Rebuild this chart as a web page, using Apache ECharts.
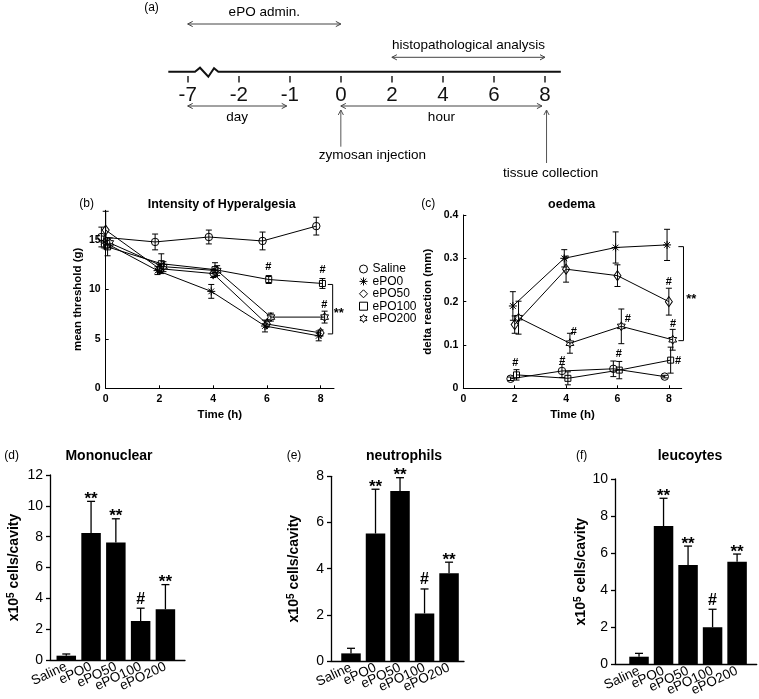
<!DOCTYPE html>
<html><head><meta charset="utf-8">
<script src="https://cdn.jsdelivr.net/npm/echarts@6/dist/echarts.min.js"></script>
<style>html,body{margin:0;padding:0;background:#fff}#c{width:759px;height:699px}</style>
</head><body><div id="c"></div>
<script>
const FONT = '"Liberation Sans", Arial, Helvetica, sans-serif';

// ---------- (a) timeline ----------
const timelineTicks = ['-7','-2','-1','0','2','4','6','8'];
const spanNames = ['ePO admin.', 'histopathological analysis', 'day', 'hour'];
const spanFrom = [0, 4, 0, 3];
const spanTo = [3, 7, 1.94, 6.94];
const eventNames = ['zymosan injection', 'tissue collection'];
const eventAt = [3, 7.03];
const timelineExtent = [-0.38, 7.31];

// ---------- (b) hyperalgesia ----------
const groupNames = ['Saline','ePO0','ePO50','ePO100','ePO200'];
const hyperTimes = [0, 2, 4, 6, 8];
const hyperSaline = [15.3, 14.8, 15.3, 14.9, 16.4];
const hyperEPO0   = [14.8, 11.9, 9.8, 6.3, 5.3];
const hyperEPO50  = [16.0, 12.1, 11.6, 6.5, 5.6];
const hyperEPO100 = [14.3, 12.6, 12.0, 11.0, 10.6];
const hyperEPO200 = [14.7, 12.3, 11.9, 7.2, 7.2];
const hyperSalineErr = [1.0, 0.8, 0.7, 0.9, 0.9];
const hyperEPO0Err   = [0.6, 0.4, 0.7, 0.6, 0.5];
const hyperEPO50Err  = [1.9, 0.4, 0.4, 0.3, 0.3];
const hyperEPO100Err = [0.9, 1.0, 0.7, 0.4, 0.5];
const hyperEPO200Err = [0.5, 0.5, 0.5, 0.4, 0.6];
const hyperXTicks = [0, 2, 4, 6, 8];
const hyperYTicks = [0, 5, 10, 15];
const hyperHash = [[6.05, 12.3], [8.07, 12.0], [8.14, 8.45]];
const hyperBracket = [[8.27, 8.45, 10.5, 5.5]];
const hyperStars = [[8.68, 7.56]];

// ---------- (c) oedema ----------
const oedTimes = [2, 4, 6, 8];
const oedSaline = [0.022, 0.040, 0.045, 0.027];
const oedEPO0   = [0.190, 0.300, 0.325, 0.331];
const oedEPO50  = [0.147, 0.275, 0.260, 0.200];
const oedEPO100 = [0.031, 0.023, 0.042, 0.065];
const oedEPO200 = [0.163, 0.104, 0.143, 0.112];
const oedSalineErr = [0.004, 0.015, 0.018, 0.003];
const oedEPO0Err   = [0.033, 0.020, 0.036, 0.036];
const oedEPO50Err  = [0.020, 0.030, 0.025, 0.031];
const oedEPO100Err = [0.012, 0.015, 0.020, 0.030];
const oedEPO200Err = [0.038, 0.023, 0.040, 0.024];
const oedXTicks = [0, 2, 4, 6, 8];
const oedHash = [[2.02, 0.059], [3.85, 0.064], [4.3, 0.13], [6.05, 0.08], [6.4, 0.16], [8.0, 0.246], [8.16, 0.148], [8.36, 0.064]];
const oedBracket = [[8.37, 8.57, 0.327, 0.11]];
const oedStars = [[8.87, 0.205]];

// ---------- (d)(e)(f) bars ----------
const barCats = ['Saline','ePO0','ePO50','ePO100','ePO200'];
const monoVals = [0.28, 8.23, 7.62, 2.53, 3.29];
const monoErr  = [0.11, 2.06, 1.54, 0.83, 1.60];
const neutVals = [0.33, 5.52, 7.36, 2.06, 3.80];
const neutErr  = [0.22, 1.92, 0.58, 1.06, 0.48];
const leucVals = [0.41, 7.46, 5.36, 2.00, 5.54];
const leucErr  = [0.18, 1.50, 1.02, 0.97, 0.41];
const barSig   = ['', '**', '**', '#', '**'];

// ---------- styling / layout ----------
const xOff = [-0.16, -0.07, 0, 0.07, 0.15];
const ASTER = 'path://M12,0L12,24M0,12L24,12M3.5,3.5L20.5,20.5M3.5,20.5L20.5,3.5';
const HEXA = 'path://M12,0L15.46,6L22.39,6L18.93,12L22.39,18L15.46,18L12,24L8.54,18L1.61,18L5.07,12L1.61,6L8.54,6Z';
const syms = ['circle', ASTER, 'diamond', 'rect', HEXA];
const symSizes = [7.5, 8, [7, 10], 6, 9];
const TL = { line: -4.3, spanDy: [-52, -18.7, 30, 30], spanLabelDy: [-11.5, -12.3, 10.8, 10.8],
  evTop: 34, evBottom: [70.7, 87], evLabelDy: [79, 97], evLabelDx: [31.5, 4],
  zig: [[0.143, 0], [0.241, -4], [0.404, 5], [0.516, -3.4], [0.6, 0]] };

function txt(x, y, s, size, weight, align, valign) {
  return { type: 'text', x: x, y: y, style: { text: s, fontSize: size, fontWeight: weight || 'normal', fontFamily: FONT,
    fill: '#000', align: align || 'center', verticalAlign: valign || 'middle',
    textAlign: align || 'center', textVerticalAlign: valign || 'middle' } };
}
function ln(x1, y1, x2, y2, c, w) {
  return { type: 'line', shape: { x1: x1, y1: y1, x2: x2, y2: y2 }, style: { stroke: c || '#000', lineWidth: w || 1 } };
}
function head(x, y, dx, dy, c) { // open arrow head at (x,y) pointing along (dx,dy)
  const L = 5, W = 2.6, px = -dy, py = dx;
  return { type: 'polyline', shape: { points: [[x - dx * L + px * W, y - dy * L + py * W], [x, y], [x - dx * L - px * W, y - dy * L - py * W]] },
    style: { stroke: c, lineWidth: 1, fill: null } };
}

// ---- series builders ----
const series = [];
// (a) main line with break
series.push({ type: 'custom', xAxisIndex: 0, yAxisIndex: 0, data: [[timelineExtent[0], timelineExtent[1]]], silent: true,
  renderItem: function (params, api) {
    const base = api.coord([0, 0])[1] + TL.line;
    const xa = api.coord([api.value(0), 0])[0], xb = api.coord([api.value(1), 0])[0];
    const pts = [[xa, base]];
    TL.zig.forEach(function (z) { pts.push([api.coord([z[0], 0])[0], base + z[1]]); });
    pts.push([xb, base]);
    return { type: 'polyline', shape: { points: pts }, style: { stroke: '#111', lineWidth: 2, fill: null } };
  } });
series.push({ type: 'custom', xAxisIndex: 0, yAxisIndex: 0, data: spanFrom.map(function (f, i) { return [f, spanTo[i]]; }), silent: true,
  renderItem: function (params, api) {
    const i = params.dataIndex, c = '#444';
    const y = api.coord([0, 0])[1] + TL.spanDy[i];
    const a = api.coord([api.value(0), 0])[0], b = api.coord([api.value(1), 0])[0];
    return { type: 'group', children: [ln(a, y, b, y, c, 1), head(a, y, -1, 0, c), head(b, y, 1, 0, c),
      txt((a + b) / 2, y + TL.spanLabelDy[i], spanNames[i], 13.5)] };
  } });
series.push({ type: 'custom', xAxisIndex: 0, yAxisIndex: 0, data: eventAt.map(function (v) { return [v, 0]; }), silent: true,
  renderItem: function (params, api) {
    const i = params.dataIndex, c = '#555';
    const base = api.coord([0, 0])[1];
    const x = api.coord([api.value(0), 0])[0];
    return { type: 'group', children: [ln(x, base + TL.evTop, x, base + TL.evBottom[i], c, 1), head(x, base + TL.evTop, 0, -1, c),
      txt(x + TL.evLabelDx[i], base + TL.evLabelDy[i], eventNames[i], 13.5)] };
  } });

function lineSeries(name, axis, times, vals, k) {
  return { type: 'line', name: name, xAxisIndex: axis, yAxisIndex: axis, clip: false, z: 3,
    data: times.map(function (t, j) { return [t + xOff[k], vals[j]]; }),
    symbol: syms[k], symbolSize: symSizes[k], symbolKeepAspect: true, showSymbol: true,
    itemStyle: { color: 'rgba(0,0,0,0)', borderColor: '#000', borderWidth: 1 },
    lineStyle: { color: '#000', width: 1 }, emphasis: { disabled: true } };
}
function errSeries(axis, times, vals, errs, k) {
  return { type: 'custom', xAxisIndex: axis, yAxisIndex: axis, silent: true, z: 2,
    data: times.map(function (t, j) { return [t + xOff[k], vals[j], errs[j]]; }), encode: { x: 0, y: 1 },
    renderItem: function (params, api) {
      const x = api.value(0), y = api.value(1), e = api.value(2);
      const t = api.coord([x, y + e]), b = api.coord([x, y - e]), h = 3;
      return { type: 'group', children: [ln(t[0], t[1], b[0], b[1]), ln(t[0] - h, t[1], t[0] + h, t[1]), ln(b[0] - h, b[1], b[0] + h, b[1])] };
    } };
}
function textSeries(axis, pts, label, size, weight) {
  return { type: 'custom', xAxisIndex: axis, yAxisIndex: axis, silent: true, z: 4, data: pts, encode: { x: 0, y: 1 },
    renderItem: function (params, api) {
      const p = api.coord([api.value(0), api.value(1)]);
      return txt(p[0], p[1], label, size, weight);
    } };
}
function bracketSeries(axis, br) {
  return { type: 'custom', xAxisIndex: axis, yAxisIndex: axis, silent: true, data: br, encode: { x: [0, 1], y: [2, 3] },
    renderItem: function (params, api) {
      const x0 = api.value(0), x1 = api.value(1), yt = api.value(2), yb = api.value(3);
      return { type: 'polyline', shape: { points: [api.coord([x0, yt]), api.coord([x1, yt]), api.coord([x1, yb]), api.coord([x0, yb])] },
        style: { stroke: '#000', lineWidth: 1, fill: null } };
    } };
}

const hyperSets = [hyperSaline, hyperEPO0, hyperEPO50, hyperEPO100, hyperEPO200];
const hyperErrs = [hyperSalineErr, hyperEPO0Err, hyperEPO50Err, hyperEPO100Err, hyperEPO200Err];
const oedSets = [oedSaline, oedEPO0, oedEPO50, oedEPO100, oedEPO200];
const oedErrs = [oedSalineErr, oedEPO0Err, oedEPO50Err, oedEPO100Err, oedEPO200Err];
groupNames.forEach(function (g, k) {
  series.push(errSeries(1, hyperTimes, hyperSets[k], hyperErrs[k], k));
  series.push(lineSeries(g, 1, hyperTimes, hyperSets[k], k));
  series.push(errSeries(2, oedTimes, oedSets[k], oedErrs[k], k));
  series.push(lineSeries(g, 2, oedTimes, oedSets[k], k));
});
series.push(textSeries(1, hyperHash, '#', 11, 'bold'));
series.push(bracketSeries(1, hyperBracket));
series.push(textSeries(1, hyperStars, '**', 13, 'bold'));
series.push(textSeries(2, oedHash, '#', 11, 'bold'));
series.push(bracketSeries(2, oedBracket));
series.push(textSeries(2, oedStars, '**', 13, 'bold'));

const sigDy = { '**': 2, '#': 9 };
function barPanel(axis, vals, errs) {
  series.push({ type: 'bar', xAxisIndex: axis, yAxisIndex: axis, barWidth: 19.5,
    data: vals.map(function (v, i) { return [i, v]; }), itemStyle: { color: '#000' }, emphasis: { disabled: true } });
  series.push({ type: 'custom', xAxisIndex: axis, yAxisIndex: axis, silent: true, z: 3,
    data: vals.map(function (v, i) { return [i, v, errs[i]]; }), encode: { x: 0, y: 1 },
    renderItem: function (params, api) {
      const i = params.dataIndex;
      const x = api.value(0), y = api.value(1), e = api.value(2);
      const b = api.coord([x, y]), t = api.coord([x, y + e]);
      const kids = [ln(b[0], b[1], t[0], t[1], '#000', 1.3), ln(t[0] - 4, t[1], t[0] + 4, t[1], '#000', 1.3)];
      const s = barSig[i];
      if (s) kids.push(txt(t[0], t[1] - sigDy[s], s, s === '#' ? 16 : 17, 'bold'));
      return { type: 'group', children: kids };
    } });
}
barPanel(3, monoVals, monoErr);
barPanel(4, neutVals, neutErr);
barPanel(5, leucVals, leucErr);

// ---- axes ----
const blk = { color: '#000', width: 1 };
function lineX(grid, ticks, name) {
  return { gridIndex: grid, type: 'value', min: 0, max: 8.5, splitLine: { show: false },
    axisLine: { show: true, onZero: false, lineStyle: blk },
    axisTick: { show: true, inside: true, length: 3, customValues: ticks, lineStyle: blk },
    axisLabel: { customValues: ticks, fontWeight: 'bold', fontSize: 10.5, color: '#000', margin: 5, fontFamily: FONT },
    name: name, nameLocation: 'middle', nameGap: 21,
    nameTextStyle: { fontWeight: 'bold', fontSize: 11.5, color: '#000', fontFamily: FONT } };
}
function lineY(grid, extra, name, gap) {
  return Object.assign({ gridIndex: grid, type: 'value', min: 0, splitLine: { show: false },
    axisLine: { show: true, onZero: false, lineStyle: blk },
    axisTick: { show: true, inside: true, length: 3, lineStyle: blk },
    axisLabel: { fontWeight: 'bold', fontSize: 10.5, color: '#000', margin: 5, fontFamily: FONT },
    name: name, nameLocation: 'middle', nameRotate: 90, nameGap: gap,
    nameTextStyle: { fontWeight: 'bold', fontSize: 11.5, color: '#000', fontFamily: FONT } }, extra);
}
function barX(grid, min, max) {
  return { gridIndex: grid, type: 'value', min: min, max: max, splitLine: { show: false },
    axisLine: { show: true, onZero: false, lineStyle: { color: '#000', width: 1.3 } }, axisTick: { show: false },
    axisLabel: { show: false } };
}
function catX(grid) {  // category axis carrying the group labels under each bar panel
  return { gridIndex: grid, type: 'category', data: barCats, boundaryGap: true,
    axisLine: { show: false }, axisTick: { show: false }, splitLine: { show: false },
    axisLabel: { interval: 0, rotate: 25, fontSize: 13.5, color: '#000', margin: 6, fontFamily: FONT } };
}
function barY(grid, max, gap) {
  return { gridIndex: grid, type: 'value', min: 0, max: max, interval: 2, splitLine: { show: false },
    axisLine: { show: true, onZero: false, lineStyle: { color: '#000', width: 1.3 } },
    axisTick: { show: true, inside: false, length: 4, lineStyle: { color: '#000', width: 1.3 } },
    axisLabel: { fontSize: 14, color: '#000', margin: 7, fontFamily: FONT },
    name: 'x10{s|5} cells/cavity', nameLocation: 'middle', nameRotate: 90, nameGap: gap,
    nameTextStyle: { fontWeight: 'bold', fontSize: 14, color: '#000', fontFamily: FONT,
      rich: { s: { fontSize: 10, fontWeight: 'bold', verticalAlign: 'top', fontFamily: FONT, padding: [0, 0, 6, 0] } } } };
}

const option = {
  animation: false,
  backgroundColor: '#fff',
  textStyle: { fontFamily: FONT },
  grid: [
    { left: 187.7, top: 20, width: 357.3, height: 56 },
    { left: 105.7, top: 210.3, width: 228.3, height: 178 },
    { left: 463.3, top: 215, width: 218.4, height: 173.3 },
    { left: 50, top: 475, width: 135, height: 185 },
    { left: 331, top: 476.3, width: 133, height: 184.7 },
    { left: 615, top: 479, width: 141.7, height: 185.3 },
    { left: 53.9, top: 475, width: 124, height: 185 },
    { left: 338.75, top: 476.3, width: 122.5, height: 184.7 },
    { left: 626.75, top: 479, width: 122.5, height: 185.3 }
  ],
  xAxis: [
    { gridIndex: 0, type: 'value', min: 0, max: 7, interval: 1, splitLine: { show: false }, axisLine: { show: false },
      axisTick: { show: true, length: 6.5, lineStyle: { color: '#222', width: 1.5 } },
      axisLabel: { formatter: function (v) { return timelineTicks[v]; }, fontSize: 20.5, color: '#111', margin: 9, fontFamily: FONT } },
    lineX(1, hyperXTicks, 'Time (h)'),
    lineX(2, oedXTicks, 'Time (h)'),
    barX(3, -0.657, 4.79),
    barX(4, -0.816, 4.61),
    barX(5, -0.98, 4.8),
    catX(6), catX(7), catX(8)
  ],
  yAxis: [
    { gridIndex: 0, type: 'value', min: 0, max: 1, show: false },
    lineY(1, { max: 18, axisTick: { show: true, inside: true, length: 3, customValues: hyperYTicks, lineStyle: blk },
      axisLabel: { customValues: hyperYTicks, fontWeight: 'bold', fontSize: 10.5, color: '#000', margin: 5, fontFamily: FONT } }, 'mean threshold (g)', 22),
    lineY(2, { max: 0.4, interval: 0.1 }, 'delta reaction (mm)', 29),
    barY(3, 12, 28),
    barY(4, 8, 29),
    barY(5, 10, 25),
    { gridIndex: 6, type: 'value', min: 0, max: 12, show: false },
    { gridIndex: 7, type: 'value', min: 0, max: 8, show: false },
    { gridIndex: 8, type: 'value', min: 0, max: 10, show: false }
  ],
  legend: {
    orient: 'vertical', left: 354, top: 258, itemWidth: 8, itemHeight: 8, itemGap: 0.4, selectedMode: false,
    textStyle: { fontSize: 12, color: '#000', fontFamily: FONT, lineHeight: 12 },
    itemStyle: { color: 'rgba(0,0,0,0)', borderColor: '#000', borderWidth: 1 },
    data: groupNames.map(function (g, k) {
      return { name: g, icon: syms[k], itemStyle: { color: 'rgba(0,0,0,0)', borderColor: '#000', borderWidth: 1 } };
    })
  },
  graphic: [
    txt(151.5, 8, '(a)', 12),
    txt(86.7, 204, '(b)', 12),
    txt(221.7, 205, 'Intensity of Hyperalgesia', 12.5, 'bold'),
    txt(428.3, 204, '(c)', 12),
    txt(571.7, 205, 'oedema', 12.5, 'bold'),
    txt(11.7, 456, '(d)', 12),
    txt(109, 456, 'Mononuclear', 14, 'bold'),
    txt(294, 456, '(e)', 12),
    txt(404, 456, 'neutrophils', 14, 'bold'),
    txt(581.7, 456, '(f)', 12),
    txt(690, 456, 'leucoytes', 14, 'bold')
  ],
  series: series
};
const chart = echarts.init(document.getElementById('c'), null, { renderer: 'canvas' });
chart.setOption(option);
</script></body></html>
